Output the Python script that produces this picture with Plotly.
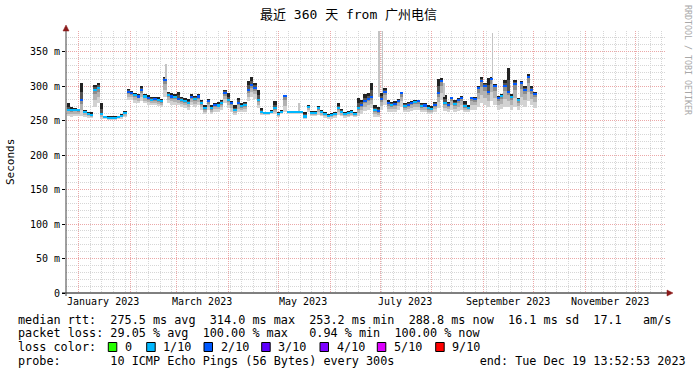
import pandas as pd
import plotly.graph_objects as go

# ---------------- data ----------------
start_day = "2022-12-25"
step_days = 2
median_ms = [266, 265, 266, 265, 280, 263, 260, 258, 295, 298,
             260, 255, 254, 254, 254, 255, 257, 261, 292, 290,
             287, 285, 295, 285, 283, 280, 281, 280, 278, 309,
             287, 285, 284, 282, 280, 278, 276, 284, 282, 285,
             276, 268, 278, 268, 273, 272, 276, 290, 280, 275,
             266, 276, 271, 273, 295, 302, 297, 280, 263, 261,
             261, 263, 268, 260, 263, 286, 262, 262, 262, 262,
             262, 256, 270, 261, 261, 268, 262, 259, 257, 258,
             260, 268, 263, 259, 261, 262, 260, 268, 273, 279,
             282, 284, 266, 264, 282, 292, 275, 273, 274, 279,
             290, 271, 273, 275, 277, 278, 271, 272, 268, 267,
             273, 290, 307, 275, 273, 283, 274, 280, 283, 271,
             269, 283, 281, 297, 307, 300, 292, 311, 300, 283,
             286, 300, 292, 284, 303, 280, 304, 295, 313, 295,
             289]
smoke_hi_ms = [275, 270, 268, 267, 304, 266, 263, 262, 302, 304,
               275, 257, 256, 256, 256, 257, 259, 264, 296, 293,
               290, 289, 300, 289, 287, 285, 285, 284, 282, 314,
               292, 290, 288, 292, 285, 283, 281, 288, 286, 288,
               280, 273, 281, 273, 276, 277, 280, 295, 290, 279,
               272, 283, 275, 277, 307, 313, 305, 295, 268, 263,
               263, 266, 278, 263, 265, 287, 264, 264, 264, 264,
               263, 262, 273, 264, 264, 271, 266, 263, 260, 261,
               263, 275, 267, 263, 264, 266, 263, 283, 280, 288,
               290, 304, 272, 270, 290, 298, 280, 277, 278, 282,
               292, 276, 277, 279, 280, 280, 276, 275, 272, 271,
               277, 310, 312, 287, 277, 285, 280, 283, 286, 278,
               272, 285, 284, 300, 314, 305, 312, 314, 303, 286,
               288, 309, 326, 288, 309, 283, 307, 300, 317, 300,
               292]
smoke_lo_ms = [256, 255, 256, 256, 256, 255, 254, 254, 270, 275,
               252, 252, 251, 251, 251, 252, 253, 255, 280, 280,
               276, 275, 278, 275, 273, 272, 272, 271, 270, 285,
               275, 273, 272, 272, 270, 268, 266, 272, 270, 272,
               265, 260, 265, 260, 262, 263, 265, 275, 268, 263,
               258, 262, 262, 263, 278, 285, 282, 268, 258, 258,
               258, 259, 260, 255, 259, 262, 260, 260, 260, 260,
               260, 253, 262, 256, 256, 258, 256, 254, 253, 253,
               254, 258, 256, 254, 255, 256, 255, 256, 260, 264,
               266, 268, 255, 255, 265, 272, 262, 262, 263, 265,
               270, 262, 262, 264, 265, 265, 262, 262, 260, 259,
               263, 268, 280, 264, 263, 266, 263, 264, 266, 262,
               262, 266, 266, 270, 275, 272, 270, 278, 272, 266,
               267, 270, 270, 265, 270, 265, 272, 270, 278, 272,
               268]
loss_tenths = [1, 1, 1, 1, 2, 1, 1, 1, 1, 1,
               1, 1, 1, 1, 1, 1, 1, 1, 2, 2,
               1, 2, 2, 1, 2, 1, 2, 1, 1, 2,
               1, 2, 1, 2, 1, 1, 1, 2, 1, 2,
               1, 1, 2, 1, 2, 1, 1, 2, 1, 2,
               1, 2, 1, 1, 2, 2, 2, 1, 1, 1,
               1, 1, 1, 1, 1, 2, 1, 1, 1, 1,
               1, 1, 1, 1, 1, 1, 1, 1, 1, 1,
               1, 1, 1, 1, 1, 1, 1, 1, 2, 2,
               2, 2, 1, 2, 2, 2, 2, 1, 2, 2,
               2, 1, 2, 2, 1, 2, 1, 2, 1, 1,
               2, 2, 2, 1, 2, 2, 1, 2, 2, 1,
               1, 2, 2, 2, 2, 2, 2, 2, 2, 2,
               1, 2, 2, 1, 2, 1, 2, 2, 2, 2,
               2]

outlier_dates = ["2023-02-22", "2023-05-13", "2023-06-30", "2023-07-02", "2023-08-08", "2023-09-06"]
outlier_base_ms = [309, 264, 285, 290, 285, 300]
outlier_top_ms = [332, 276, 380, 380, 305, 377]

y_tickvals = [0, 50, 100, 150, 200, 250, 300, 350]
y_ticktext = ["0", "50 m", "100 m", "150 m", "200 m", "250 m", "300 m", "350 m"]
x_label_dates = ["2023-01-16", "2023-03-16", "2023-05-16", "2023-07-16", "2023-09-16", "2023-11-16"]
x_labels = ["January 2023", "March 2023", "May 2023", "July 2023", "September 2023", "November 2023"]

title_text = "最近 360 天 from 广州电信"
range_start = "2022-12-24 13:52:53"
range_end = "2023-12-19 13:52:53"

rtt_avg, rtt_max, rtt_min, rtt_now, rtt_sd, rtt_ams = 275.5, 314.0, 253.2, 288.8, 16.1, 17.1
loss_avg, loss_max, loss_min, loss_now = 29.05, 100.00, 0.94, 100.00
probe_text = "10 ICMP Echo Pings (56 Bytes) every 300s"
end_text = "end: Tue Dec 19 13:52:53 2023"
loss_labels = ["0", "1/10", "2/10", "3/10", "4/10", "5/10", "9/10"]
loss_colors = ["#26ff00", "#00b8ff", "#0059ff", "#5e00ff", "#7e00ff", "#dd00ff", "#ff0000"]
loss_color_of = {1: "#00b8ff", 2: "#0059ff", 3: "#5e00ff", 4: "#7e00ff", 5: "#dd00ff", 9: "#ff0000", 0: "#26ff00"}

# ---------------- figure ----------------
W, H = 697, 375
L, R, T, B = 66, 666, 31, 293
DAY = 86400000


def px(xp):
    return (xp - L) / (R - L)


def py(yp):
    return (B - yp) / (B - T)


dates = pd.date_range(start_day, periods=len(median_ms), freq=f"{step_days}D")
bar_w = step_days * DAY

fig = go.Figure()

# smoke: shaded sub-bands (gradient styling) between lo -> median -> hi
lower_shades = [(0.0, 0.4, "#d2d2d2"), (0.4, 0.75, "#b2b2b2"), (0.75, 1.0, "#8c8c8c")]
upper_shades = [(0.0, 0.5, "#555555"), (0.5, 1.0, "#222222")]
for f0, f1, col in lower_shades:
    b = [l + f0 * (m - l) for l, m in zip(smoke_lo_ms, median_ms)]
    t = [l + f1 * (m - l) for l, m in zip(smoke_lo_ms, median_ms)]
    fig.add_trace(go.Bar(x=dates, base=b, y=[tt - bb for tt, bb in zip(t, b)],
                         width=bar_w, offset=0, marker=dict(color=col, line=dict(width=0)),
                         hoverinfo="skip", showlegend=False))
for f0, f1, col in upper_shades:
    b = [m + f0 * (h - m) for m, h in zip(median_ms, smoke_hi_ms)]
    t = [m + f1 * (h - m) for m, h in zip(median_ms, smoke_hi_ms)]
    fig.add_trace(go.Bar(x=dates, base=b, y=[tt - bb for tt, bb in zip(t, b)],
                         width=bar_w, offset=0, marker=dict(color=col, line=dict(width=0)),
                         hoverinfo="skip", showlegend=False))
# outlier pings (light grey)
fig.add_trace(go.Bar(x=pd.to_datetime(outlier_dates), base=outlier_base_ms,
                     y=[t - b for t, b in zip(outlier_top_ms, outlier_base_ms)],
                     width=1.0 * DAY, offset=0, marker=dict(color="#c4c4c4", line=dict(width=0)),
                     hoverinfo="skip", showlegend=False))
# median, coloured by loss
med_th = 3.0
fig.add_trace(go.Bar(x=dates, base=[m - med_th / 2 for m in median_ms],
                     y=[med_th] * len(median_ms),
                     width=bar_w, offset=0,
                     marker=dict(color=[loss_color_of[v] for v in loss_tenths], line=dict(width=0)),
                     hoverinfo="skip", showlegend=False))

mono = "DejaVu Sans Mono"
month_starts = pd.date_range("2023-01-01", "2023-12-01", freq="MS")

fig.update_layout(
    width=W, height=H, autosize=False,
    margin=dict(l=L, r=W - R, t=T, b=H - B, pad=0),
    paper_bgcolor="white", plot_bgcolor="white",
    barmode="overlay", bargap=0, showlegend=False, hovermode=False,
    font=dict(family=mono, size=10, color="#000000"),
)
fig.update_xaxes(
    type="date", range=[range_start, range_end],
    tickmode="array", tickvals=month_starts, showticklabels=False,
    ticks="", showgrid=True, gridcolor="#eba8a8", gridwidth=1, griddash="1px,1px",
    minor=dict(tick0="2023-01-08", dtick=7 * DAY, showgrid=True, gridcolor="#d6d6d6",
               gridwidth=1, griddash="1px,1px", ticks=""),
    showline=False, zeroline=False, fixedrange=True,
)
fig.update_yaxes(
    range=[0, 380], tickmode="array", tickvals=y_tickvals, ticktext=y_ticktext,
    ticks="outside", ticklen=3, tickcolor="#000000", tickwidth=1,
    tickfont=dict(family=mono, size=10, color="#000000"),
    showgrid=True, gridcolor="#eba8a8", gridwidth=1, griddash="1px,1px",
    minor=dict(dtick=10, showgrid=True, gridcolor="#d6d6d6", gridwidth=1, griddash="1px,1px"),
    showline=False, zeroline=False, fixedrange=True,
)

shapes = []
# axes lines + arrows
shapes.append(dict(type="line", xref="paper", yref="paper", x0=px(L - 4), x1=px(671), y0=0, y1=0,
                   line=dict(color="#000000", width=1)))
shapes.append(dict(type="line", xref="paper", yref="paper", x0=0, x1=0, y0=py(B + 3), y1=py(28),
                   line=dict(color="#404040", width=1)))
shapes.append(dict(type="path", xref="paper", yref="paper",
                   path=f"M {px(667)},{py(290)} L {px(673)},{py(293)} L {px(667)},{py(296)} Z",
                   fillcolor="#8b1a1a", line=dict(color="#8b1a1a", width=0.5)))
shapes.append(dict(type="path", xref="paper", yref="paper",
                   path=f"M {px(63)},{py(31)} L {px(66)},{py(25)} L {px(69)},{py(31)} Z",
                   fillcolor="#8b1a1a", line=dict(color="#8b1a1a", width=0.5)))

annotations = []


def text_at(xp, yp, text, size=11.8, color="#000000", anchor="left", family=mono, angle=0):
    annotations.append(dict(xref="paper", yref="paper", x=px(xp), y=py(yp), text=text,
                            showarrow=False, xanchor=anchor, yanchor="middle",
                            textangle=angle, borderpad=0,
                            font=dict(family=family, size=size, color=color)))


def keep_spaces(s):
    return s.replace(" ", "\u00a0")


# title
text_at(348.5, 15, title_text, size=13, anchor="center", family=f"{mono}, Noto Sans CJK SC")
# y axis title
text_at(10, 162, "Seconds", size=11, anchor="center", angle=-90)
# watermark
text_at(688, 60, "RRDTOOL / TOBI OETIKER", size=8.3, color="#a8a8a8", anchor="center", angle=90)

# x labels
for d, lab in zip(x_label_dates, x_labels):
    annotations.append(dict(xref="x", yref="paper", x=d, y=py(301.5), text=lab, showarrow=False,
                            xanchor="center", yanchor="middle", borderpad=0,
                            font=dict(family=mono, size=10, color="#000000")))

# legend rows (monospace lines, rrdtool style)
r1, r2, r3, r4 = 319.5, 333, 347, 361
row1 = (f"median rtt:  {rtt_avg:5.1f} ms avg  {rtt_max:5.1f} ms max  {rtt_min:5.1f} ms min  "
        f"{rtt_now:5.1f} ms now  {rtt_sd:4.1f} ms sd  {rtt_ams:4.1f}   am/s")
row2 = (f"packet loss: {loss_avg:5.2f} % avg  {loss_max:5.2f} % max  {loss_min:5.2f} % min  "
        f"{loss_now:5.2f} % now")
row4 = f"probe:       {probe_text}            {end_text}"
text_at(16.5, r1, keep_spaces(row1))
text_at(16.5, r2, keep_spaces(row2))
text_at(16.5, r4, keep_spaces(row4))

text_at(16.5, r3, "loss color:")
sq_left = [108.3, 146.7, 204.0, 261.7, 320.0, 377.3, 435.7]
for xs, lab, col in zip(sq_left, loss_labels, loss_colors):
    shapes.append(dict(type="rect", xref="paper", yref="paper",
                       x0=px(xs), x1=px(xs + 8.5), y0=py(r3 + 4.5), y1=py(r3 - 4.5),
                       fillcolor=col, line=dict(color="#000000", width=1)))
    text_at(xs + 15.5, r3, lab)

fig.update_layout(shapes=shapes, annotations=annotations)
fig.write_html("out.html",
               config={"displayModeBar": False, "staticPlot": True},
               post_script="document.body.style.margin='0';document.body.style.padding='0';window.dispatchEvent(new Event('resize'));")
